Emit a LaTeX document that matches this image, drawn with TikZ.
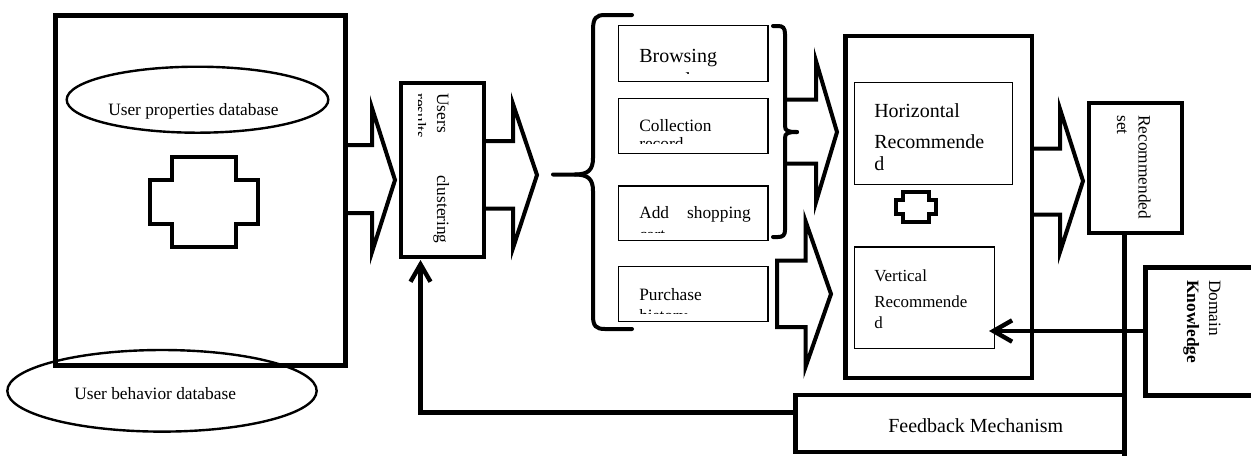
\documentclass[tikz,border=0pt]{standalone}
\usepackage{fontspec}
\setmainfont{Liberation Serif}
\usetikzlibrary{fit,arrows.meta,shapes.geometric}
\begin{document}
\begin{tikzpicture}[x=0.75pt,y=-0.75pt,
  thickbox/.style={draw, line width=3.5pt, inner sep=0pt},
  thinbox/.style={draw, line width=0.9pt, inner sep=0pt},
  blockarrow/.style={draw, line width=3pt, line join=miter, miter limit=10},
  crossshape/.style={draw, line width=3pt, line join=miter},
  bracestroke/.style={draw, line width=3pt, line cap=round},
  link/.style={draw, line width=3.3pt},
  dbellipse/.style={draw, ellipse, line width=1.8pt, inner sep=0pt},
  txt/.style={inner sep=0pt, anchor=base west},
  sizeA/.style={font=\fontsize{15pt}{18pt}\selectfont},
  sizeB/.style={font=\fontsize{13pt}{16pt}\selectfont},
  sizeC/.style={font=\fontsize{12.7pt}{15pt}\selectfont},
  sizeD/.style={font=\fontsize{13pt}{15pt}\selectfont},
  barb/.style={-{Straight Barb[length=13pt, width=15pt]}}
]
\useasboundingbox (0,0) rectangle (1251,455);
\clip (0,0) rectangle (1251,455);

% ---------- left database block ----------
\node[thickbox, fit={(55.5,15.5) (345.5,365.5)}] (udb) {};
\node[dbellipse, minimum width=196.2pt, minimum height=49.5pt] (upd) at (197.5,99.7) {};
\node[txt, sizeB] (updt) at (108,115) {User properties database};
\draw[crossshape] (171.5,157) -- (235.5,157) -- (235.5,179.5) -- (258,179.5) -- (258,223.5) -- (235.5,223.5) -- (235.5,247) -- (171.5,247) -- (171.5,223.5) -- (149.5,223.5) -- (149.5,179.5) -- (171.5,179.5) -- cycle;
\node[dbellipse, minimum width=232pt, minimum height=61.2pt] (ubd) at (162,390.8) {};
\node[txt, sizeB] (ubdt) at (74,399) {User behavior database};

% ---------- users clustering ----------
\node[thickbox, fit={(401,83) (484,257)}] (uc) {};
\node[txt, sizeB, rotate=-90] (uct1) at (437,93) {Users};
\node[txt, sizeB, rotate=-90] (uct2) at (437,175) {clustering};
\begin{scope}
  \clip (418.5,85) rectangle (432,140);
  \node[txt, sizeB, rotate=-90] (uct3) at (414,93) {results};
\end{scope}

% ---------- behaviour boxes ----------
\node[thinbox, fit={(618.7,25.7) (768,81.7)}] (brw) {};
\node[txt, sizeA] (brwt) at (639,62) {Browsing};
\begin{scope}
  \clip (620,66) rectangle (766,73.5);
  \node[txt, sizeA] (brws) at (639,86.5) {record};
\end{scope}

\node[thinbox, fit={(618.7,98.7) (768,153.7)}] (col) {};
\node[txt, sizeB] (colt) at (639,131.5) {Collection};
\begin{scope}
  \clip (620,135) rectangle (766,143);
  \node[txt, sizeB] (cols) at (639,149.5) {record};
\end{scope}

\node[thinbox, fit={(618.7,186) (768,240.7)}] (add) {};
\node[txt, sizeB] (addt) at (639,218.3) {Add\hspace{13.5pt}shopping};
\begin{scope}
  \clip (620,222) rectangle (766,232.5);
  \node[txt, sizeB] (adds) at (639,240.5) {cart};
\end{scope}

\node[thinbox, fit={(618.7,266.7) (768,321.7)}] (pur) {};
\node[txt, sizeB] (purt) at (639,300.7) {Purchase};
\begin{scope}
  \clip (620,304) rectangle (766,313);
  \node[txt, sizeB] (purs) at (639,321.5) {history};
\end{scope}

% ---------- recommendation block ----------
\node[thickbox, fit={(845.5,36) (1032,378)}] (rec) {};
\node[thinbox, fit={(854.3,82.3) (1012.3,184.3)}] (hor) {};
\node[txt, sizeA] (hort1) at (874,117) {Horizontal};
\node[txt, sizeA] (hort2) at (874,148) {Recommende};
\node[txt, sizeA] (hort3) at (874,170) {d};
\draw[crossshape] (903,192) -- (929,192) -- (929,199.5) -- (935.5,199.5) -- (935.5,214) -- (929,214) -- (929,221.5) -- (903,221.5) -- (903,214) -- (895.5,214) -- (895.5,199.5) -- (903,199.5) -- cycle;
\node[thinbox, fit={(854.3,247) (994.3,348.3)}] (ver) {};
\node[txt, sizeC] (vert1) at (874,281) {Vertical};
\node[txt, sizeC] (vert2) at (874,307) {Recommende};
\node[txt, sizeC] (vert3) at (874,328) {d};

% ---------- recommended set ----------
\node[thickbox, fit={(1089,103) (1182,233)}] (rs) {};
\node[txt, sizeB, rotate=-90] (rst1) at (1138.5,115) {Recommended};
\node[txt, sizeB, rotate=-90] (rst2) at (1117,115) {set};

% ---------- domain knowledge ----------
\node[thickbox, fit={(1145.5,267.5) (1266,395.5)}] (dk) {};
\node[txt, sizeD, rotate=-90] (dkt1) at (1209,280) {Domain};
\node[txt, sizeB, rotate=-90] (dkt2) at (1187,280) {\bfseries Knowledge};

% ---------- feedback ----------
\node[thickbox, fit={(795.5,395) (1125,452)}] (fbm) {};
\node[txt, sizeA] (fbmt) at (888,432) {Feedback Mechanism};

% ---------- block arrows ----------
\draw[blockarrow] (345.5,145) -- (372,145) -- (372,108) -- (395,180) -- (372,252) -- (372,213) -- (345.5,213);
\draw[blockarrow] (484,141) -- (513,141) -- (513,104) -- (537,175) -- (513,248) -- (513,208.5) -- (484,208.5);
\draw[blockarrow] (785,99.5) -- (816,99.5) -- (816,61) -- (837,132) -- (816,202) -- (816,163.5) -- (785,163.5);
\draw[blockarrow] (777,260.5) -- (805.5,260.5) -- (805.5,221) -- (831,294) -- (805.5,367) -- (805.5,327) -- (777,327) -- cycle;
\draw[blockarrow] (1032,148.5) -- (1060,148.5) -- (1060,109) -- (1083,181) -- (1060,252) -- (1060,214.5) -- (1032,214.5);

% ---------- braces ----------
\draw[bracestroke] (632,15) -- (605,15) .. controls (596,15) and (593,18) .. (593,30) -- (593,158) .. controls (593,170) and (588,174.5) .. (575,174.5) -- (553,174.5);
\draw[bracestroke] (575,174.5) .. controls (588,174.5) and (593,179) .. (593,191) -- (593,316) .. controls (593,326) and (596,329) .. (605,329) -- (632,329);
\draw[bracestroke] (773,26) -- (778,26) .. controls (783,26) and (785,28) .. (785,34) -- (785,126) .. controls (785,131) and (788,132) .. (797,132);
\draw[bracestroke] (797,132) .. controls (788,132) and (785,133) .. (785,138) -- (785,230) .. controls (785,235) and (783,237) .. (778,237) -- (773,237);

% ---------- connectors ----------
\coordinate (fbl) at (0,412.5);
\coordinate (ucin) at (420.5,260);
\draw[link, barb] (fbm.west |- fbl) -| (ucin);
\coordinate (vx) at (1124.5,0);
\coordinate (vbot) at (1124.5,458);
\draw[link] (rs.south -| vx) -- (vbot);
\coordinate (dtip) at (989,331);
\draw[link, -{Straight Barb[length=14pt, width=16pt]}] (dk.west |- dtip) -- (dtip);
\end{tikzpicture}
\end{document}
